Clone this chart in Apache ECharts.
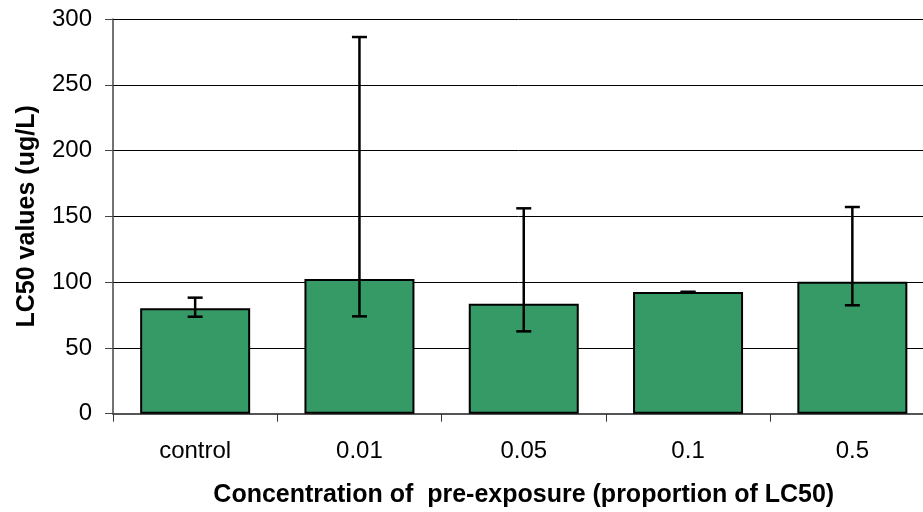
<!DOCTYPE html>
<html>
<head>
<meta charset="utf-8">
<script src="https://cdn.jsdelivr.net/npm/echarts@6/dist/echarts.min.js"></script>
<style>
  html, body { margin: 0; padding: 0; background: #fff; }
  #chart { width: 923px; height: 512px; }
</style>
</head>
<body>
<div id="chart"></div>
<script>
// categories and values
const categories = ['control', '0.01', '0.05', '0.1', '0.5']
const lc50 = [80.1, 102.4, 83.6, 92.5, 100.3]
const errLow = [73.7, 74.0, 62.6, 92.3, 82.4]
const errHigh = [88.2, 286.3, 156.1, 92.7, 157.1]
const yTicks = [0, 50, 100, 150, 200, 250, 300]

const font = '"Liberation Sans", Arial, sans-serif'

const errData = categories.map((c, i) => [i, errLow[i], errHigh[i]])

const myChart = echarts.init(document.getElementById('chart'))
myChart.setOption({
  animation: false,
  backgroundColor: '#fff',
  grid: {
    left: 113,
    top: 19,
    width: 821.5,
    height: 394.7,
    containLabel: false,
    outerBoundsMode: 'none'
  },
  xAxis: {
    type: 'category',
    data: categories,
    boundaryGap: true,
    name: 'Concentration of  pre-exposure (proportion of LC50)',
    nameLocation: 'middle',
    nameGap: 69,
    nameTextStyle: { fontFamily: font, fontSize: 25, fontWeight: 'bold', color: '#000' },
    axisLine: { lineStyle: { color: '#555', width: 2 } },
    axisTick: { show: true, length: 8, inside: false, lineStyle: { color: '#333', width: 1 } },
    axisLabel: { fontFamily: font, fontSize: 24, color: '#000', margin: 26 },
    splitLine: { show: false }
  },
  yAxis: {
    type: 'value',
    min: yTicks[0],
    max: yTicks[yTicks.length - 1],
    interval: 50,
    name: 'LC50 values (ug/L)',
    nameLocation: 'middle',
    nameGap: 73,
    nameRotate: 90,
    nameTextStyle: { fontFamily: font, fontSize: 25, fontWeight: 'bold', color: '#000' },
    axisLine: { show: true, lineStyle: { color: '#444', width: 1.5 } },
    axisTick: { show: true, length: 8, lineStyle: { color: '#444', width: 1 } },
    axisLabel: { fontFamily: font, fontSize: 24, color: '#000', margin: 21 },
    splitLine: { show: true, lineStyle: { color: '#000', width: 1 } }
  },
  series: [
    {
      type: 'bar',
      data: lc50,
      barWidth: 110,
      itemStyle: { color: '#359a66', borderColor: '#000', borderWidth: 2 },
      z: 2
    },
    {
      type: 'custom',
      data: errData,
      z: 5,
      renderItem: function(params, api) {
        const x = api.value(0)
        const lo = api.coord([x, api.value(1)])
        const hi = api.coord([x, api.value(2)])
        const half = 7.5
        const style = { stroke: '#000', lineWidth: 2.5 }
        return {
          type: 'group',
          children: [
            { type: 'line', shape: { x1: lo[0], y1: lo[1], x2: hi[0], y2: hi[1] }, style: style },
            { type: 'line', shape: { x1: lo[0] - half, y1: lo[1], x2: lo[0] + half, y2: lo[1] }, style: style },
            { type: 'line', shape: { x1: hi[0] - half, y1: hi[1], x2: hi[0] + half, y2: hi[1] }, style: style }
          ]
        }
      }
    }
  ]
})
</script>
</body>
</html>
